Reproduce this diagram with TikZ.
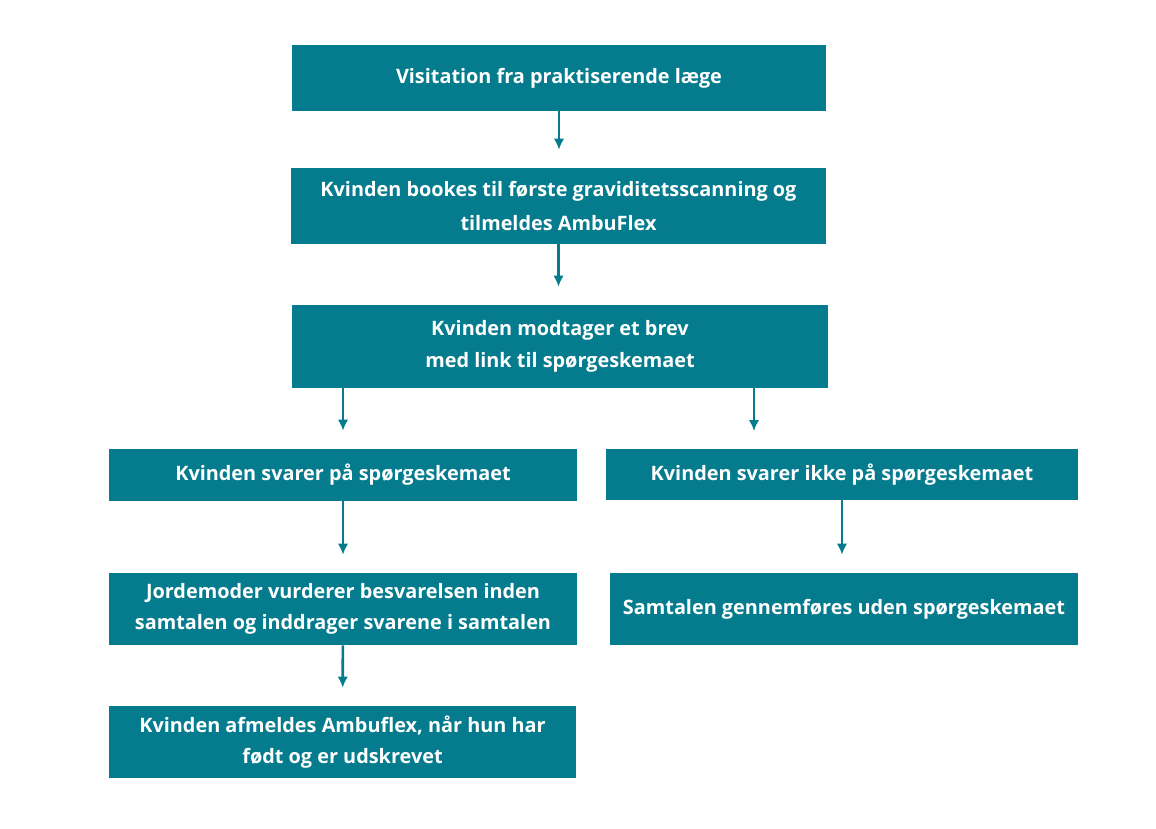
\documentclass[tikz,border=0pt]{standalone}
\usepackage{fontspec}
\setmainfont{Open Sans}
\usepackage{xcolor}
\usetikzlibrary{positioning, calc, arrows.meta}
\definecolor{petrol}{HTML}{047C8E}
\tikzstyle{flowbox} = [rectangle, fill=petrol, draw=none,
text=white, align=center, inner sep=0pt,
font=\fontsize{11.3}{18}\selectfont\bfseries]
\tikzstyle{flowarrow} = [draw=petrol, line width=1.5pt,
-{Latex[length=2.2mm, width=2.1mm]}, shorten >=0.36cm]

\begin{document}
\begin{tikzpicture}
	\useasboundingbox (0,0) rectangle (23.12,-16.56);
	\node[flowbox, minimum width=10.68cm, minimum height=1.32cm](visit) at (11.18,-1.56) {Visitation fra praktiserende læge};
	\node[flowbox, minimum width=10.7cm, minimum height=1.52cm, font=\fontsize{11.3}{19.5}\selectfont\bfseries](booking) at (11.17,-4.12) {Kvinden bookes til første graviditetsscanning og\\tilmeldes AmbuFlex};
	\node[flowbox, minimum width=10.72cm, minimum height=1.66cm](brev) at (11.2,-6.93) {Kvinden modtager et brev\\med link til spørgeskemaet};
	\node[flowbox, minimum width=9.36cm, minimum height=1.04cm](svarer) at (6.86,-9.5) {Kvinden svarer på spørgeskemaet};
	\node[flowbox, minimum width=9.44cm, minimum height=1.02cm](ikke) at (16.84,-9.49) {Kvinden svarer ikke på spørgeskemaet};
	\node[flowbox, minimum width=9.36cm, minimum height=1.44cm](vurder) at (6.86,-12.18) {Jordemoder vurderer besvarelsen inden\\samtalen og inddrager svarene i samtalen};
	\node[flowbox, minimum width=9.36cm, minimum height=1.44cm](uden) at (16.88,-12.18) {Samtalen gennemføres uden spørgeskemaet};
	\node[flowbox, minimum width=9.34cm, minimum height=1.44cm](afmeld) at (6.85,-14.84) {Kvinden afmeldes Ambuflex, når hun har\\født og er udskrevet};
	\coordinate (ikketop) at (15.08,-8.98);
	%% main line
	\draw[flowarrow] (visit.south) -- (visit.south |- booking.north);
	\draw[flowarrow] (booking.south) -- (booking.south |- brev.north);
	%% split
	\draw[flowarrow] (brev.south -| svarer.north) -- (svarer.north);
	\draw[flowarrow] (brev.south -| ikketop) -- (ikketop);
	%% left and right branch
	\draw[flowarrow] (svarer) -- (vurder);
	\draw[flowarrow] (vurder) -- (afmeld);
	\draw[flowarrow] (ikke.south) -- (ikke.south |- uden.north);
\end{tikzpicture}
\end{document}
